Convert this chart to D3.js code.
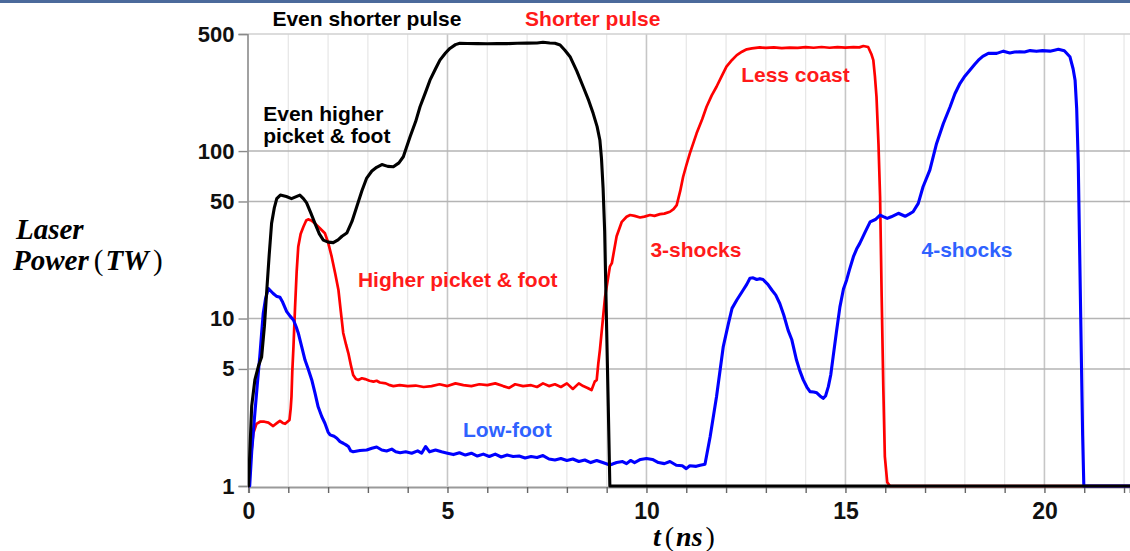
<!DOCTYPE html>
<html>
<head>
<meta charset="utf-8">
<script src="https://cdn.jsdelivr.net/npm/d3@7"></script>
<style>
  html, body { margin: 0; padding: 0; background: #fff; }
  svg { display: block; }
</style>
</head>
<body>
<svg id="chart" width="1130" height="551"></svg>
<script>
// Laser power histories (time in ns, power in TW)
const blackT = [0,0.08,0.16,0.25,0.33,0.4,0.46,0.52,0.58,0.65,0.71,0.8,0.95,1.08,1.2,1.29,1.38,1.46,1.56,1.67,1.78,1.88,2.0,2.13,2.25,2.35,2.47,2.6,2.72,2.85,2.97,3.1,3.22,3.35,3.5,3.64,3.78,3.89,4.06,4.2,4.31,4.45,4.56,4.7,4.81,4.95,5.06,5.2,5.31,5.5,5.75,6.0,6.25,6.5,6.75,7.0,7.25,7.4,7.57,7.7,7.83,7.95,8.08,8.25,8.41,8.55,8.66,8.76,8.83,8.87,8.91,8.95,9.0,9.04,9.08,22.2];
const blackP = [1,3,4.3,5.2,5.9,9,14.8,24,37,46,52,54.6,53.5,52,53.5,54.6,52,49,43,37,32,29.4,28.6,28.4,29.5,31,32.4,38,46.5,58,69,76,80,83,81,80.6,85,92.5,121.7,150,184,225,265,310,349,385,410,432,440,439,438,437,439,438,440,441,442,446,442,440,430,400,366,300,242,200,168,140,116,90,60,33,8.5,3,1,1];

const redT = [0,0.06,0.12,0.2,0.29,0.4,0.5,0.62,0.72,0.79,0.86,0.92,0.98,1.03,1.06,1.08,1.1,1.13,1.17,1.21,1.25,1.31,1.38,1.45,1.5,1.58,1.67,1.8,1.92,2.0,2.09,2.18,2.26,2.32,2.38,2.45,2.51,2.57,2.63,2.7,2.76,2.85,2.93,3.04,3.14,3.22,3.3,3.45,3.55,3.64,3.8,4.0,4.2,4.4,4.6,4.8,5.0,5.2,5.4,5.6,5.8,6.0,6.2,6.4,6.55,6.7,6.9,7.1,7.25,7.4,7.55,7.7,7.85,8.0,8.15,8.3,8.41,8.52,8.62,8.7,8.75,8.79,8.83,8.91,8.96,9.08,9.13,9.25,9.38,9.5,9.59,9.7,9.84,9.95,10.09,10.2,10.34,10.45,10.59,10.68,10.76,10.85,10.92,11.0,11.09,11.26,11.4,11.51,11.64,11.76,11.9,12.01,12.15,12.27,12.4,12.52,12.65,12.85,13.0,13.2,13.4,13.6,13.8,14.0,14.2,14.4,14.6,14.8,15.0,15.2,15.35,15.45,15.57,15.65,15.7,15.74,15.78,15.83,15.87,15.91,15.95,15.99,16.05,16.12,22.2];
const redP = [1,1.5,2.06,2.35,2.42,2.42,2.39,2.28,2.38,2.45,2.38,2.35,2.42,2.48,2.9,3.41,4.8,6.8,11.7,19,26.8,32,35.3,38.5,39.1,38.5,37,34.5,32.3,28.5,23.4,18.5,14.8,11,8.2,7,6.2,5.3,4.6,4.35,4.3,4.4,4.35,4.25,4.2,4.25,4.15,4.1,4.0,3.95,4.0,3.95,3.98,3.9,3.95,4.05,3.95,4.1,4.0,3.95,4.05,4.0,4.1,3.95,3.85,4.05,3.95,4.0,3.9,4.1,3.95,4.05,3.9,4.1,3.8,4.1,3.95,3.85,3.74,4.2,4.3,5.4,6.5,10.2,13.5,20.4,21.4,31,37.8,40.5,41.5,41.0,40.1,40.6,41.5,41.0,42,42.3,43.4,45,47.6,58,70,82,96.9,127.6,155,184,215,242,283,319,350,374,392,405,410,416,413,416,412,415,413,417,414,418,414,417,415,418,416,424,418,380,349,280,211,110,53.4,13.5,4,1.5,1.05,1,1];

const blueT = [0.03,0.08,0.16,0.22,0.29,0.33,0.37,0.43,0.5,0.56,0.62,0.7,0.79,0.86,0.96,1.05,1.13,1.2,1.25,1.33,1.42,1.5,1.59,1.67,1.75,1.84,1.92,2.0,2.05,2.15,2.22,2.3,2.38,2.45,2.51,2.57,2.63,2.8,2.97,3.1,3.22,3.35,3.47,3.6,3.7,3.81,3.95,4.1,4.25,4.35,4.45,4.55,4.7,4.85,5.0,5.15,5.3,5.45,5.6,5.75,5.9,6.05,6.2,6.35,6.5,6.65,6.8,6.95,7.1,7.25,7.4,7.55,7.7,7.85,8.0,8.15,8.3,8.45,8.6,8.75,8.9,9.08,9.25,9.4,9.5,9.6,9.7,9.85,10.0,10.15,10.3,10.45,10.59,10.75,10.9,11.0,11.09,11.25,11.35,11.47,11.6,11.76,11.93,12.06,12.15,12.27,12.43,12.52,12.6,12.68,12.77,12.85,12.93,13.05,13.15,13.25,13.35,13.45,13.56,13.65,13.77,13.85,13.94,14.03,14.11,14.2,14.28,14.36,14.44,14.5,14.57,14.63,14.69,14.77,14.86,14.95,15.03,15.1,15.2,15.28,15.36,15.5,15.62,15.75,15.87,15.95,16.05,16.15,16.33,16.5,16.6,16.7,16.83,16.95,17.12,17.29,17.46,17.63,17.75,17.88,18.0,18.13,18.25,18.34,18.45,18.59,18.7,18.8,18.97,19.13,19.25,19.38,19.5,19.64,19.8,19.95,20.14,20.25,20.35,20.5,20.64,20.72,20.77,20.81,20.85,20.89,20.93,20.96,20.99,22.2];
const blueP = [1,1.6,2.72,4.0,6.2,8.2,10.7,13.2,15.1,14.6,14.1,13.6,13.4,12.5,11,10.3,9.8,8.9,8.2,6.9,5.65,5.0,4.3,3.6,2.97,2.6,2.37,2.1,2.02,1.98,1.93,1.84,1.8,1.76,1.72,1.62,1.6,1.63,1.64,1.68,1.71,1.64,1.62,1.66,1.6,1.58,1.6,1.57,1.62,1.57,1.72,1.6,1.64,1.6,1.57,1.54,1.58,1.53,1.57,1.51,1.55,1.5,1.55,1.49,1.53,1.5,1.51,1.47,1.5,1.48,1.52,1.45,1.43,1.46,1.42,1.45,1.4,1.43,1.38,1.42,1.38,1.335,1.38,1.4,1.36,1.42,1.38,1.44,1.46,1.44,1.38,1.36,1.4,1.33,1.32,1.27,1.32,1.31,1.33,1.35,1.97,3.41,6.8,9.36,11.5,12.9,14.8,16,17.4,17.5,17.1,17.3,17.1,16,14.8,13.8,12.3,10.5,8.5,7.5,5.65,4.9,4.3,3.9,3.66,3.64,3.6,3.45,3.34,3.45,3.92,4.6,5.9,8.2,11.7,15,17,19.5,23.4,26,28.1,33,37.8,39,41.5,40.6,39.6,40.5,42.5,40.8,42,43.4,48.7,61.2,77,111,146,184,220,254,280,305,330,349,368,383,384,383,395,385,390,392,390,398,394,398,395,400,405,397,366,310,265,180,84.5,21.4,5.4,2,1,1];

// Axis ticks
const yTickValues = [1, 5, 10, 50, 100, 500];
const xTickLabels = [0, 5, 10, 15, 20];

// Annotations: text, colour and starting time (ns)
const notes = [
  { text: "Even shorter pulse", color: "#000000", t: 0.6 },
  { text: "Shorter pulse", color: "#ff1a1a", t: 6.95 },
  { text: "Even higher", color: "#000000", t: 0.37 },
  { text: "picket & foot", color: "#000000", t: 0.37 },
  { text: "Higher picket & foot", color: "#ff1a1a", t: 2.75 },
  { text: "Low-foot", color: "#2f62ff", t: 5.39 },
  { text: "3-shocks", color: "#ff1a1a", t: 10.1 },
  { text: "Less coast", color: "#ff1a1a", t: 12.38 },
  { text: "4-shocks", color: "#2f62ff", t: 16.91 }
];
// baseline heights of the annotation text in screen rows
const noteRows = [26, 26, 121, 143, 287, 437, 257, 81.5, 257];

const svg = d3.select("#chart");
const W = 1130, H = 551;

const x = d3.scaleLinear().domain([0, 22.15]).range([248.5, 1130]);
const y = d3.scaleLog().domain([1, 500]).range([486, 34]);

// header rule
svg.append("rect").attr("x", 0).attr("y", 0).attr("width", W).attr("height", 3).attr("fill", "#4b6a9b");

svg.append("defs").append("clipPath").attr("id", "plotclip")
  .append("rect").attr("x", 248).attr("y", 30).attr("width", W - 248).attr("height", 470);

// vertical grid, every ns, darker every 5 ns
const grid = svg.append("g");
d3.range(1, 23).forEach(v => {
  grid.append("line")
    .attr("x1", x(v)).attr("x2", x(v)).attr("y1", y(500)).attr("y2", y(1))
    .attr("stroke", v % 5 === 0 ? "#c6c6c6" : "#e6e6e6")
    .attr("stroke-width", v % 5 === 0 ? 1.6 : 1.2);
});
// horizontal grid at labelled values
yTickValues.filter(v => v > 1).forEach(v => {
  grid.append("line")
    .attr("x1", x(0)).attr("x2", W).attr("y1", y(v)).attr("y2", y(v))
    .attr("stroke", v === 500 ? "#d0d0d0" : "#b4b4b4").attr("stroke-width", 1.4);
});

// y axis
const yAxis = d3.axisLeft(y).tickValues(yTickValues).tickFormat(d3.format("d")).tickSize(9).tickPadding(4);
const gy = svg.append("g").attr("transform", `translate(${x(0) - 1},0)`).call(yAxis);
gy.select(".domain").attr("stroke", "#8a8a8a").attr("stroke-width", 1.6);
gy.selectAll(".tick line").attr("stroke", "#8a8a8a").attr("stroke-width", 1.4);
gy.selectAll(".tick text")
  .attr("font-family", "Liberation Sans, Arial, sans-serif")
  .attr("font-weight", "bold").attr("font-size", 22).attr("fill", "#111");

// x axis
const xAxis = d3.axisBottom(x).tickValues(d3.range(0, 23)).tickSize(6).tickPadding(10)
  .tickFormat(d => xTickLabels.includes(d) ? d : "");
const gx = svg.append("g").attr("transform", `translate(0,${y(1) + 1})`).call(xAxis);
gx.select(".domain").attr("stroke", "#9a9a9a").attr("stroke-width", 2.2);
gx.selectAll(".tick line").attr("stroke", "#666").attr("stroke-width", 1.4);
gx.selectAll(".tick text")
  .attr("font-family", "Liberation Sans, Arial, sans-serif")
  .attr("font-weight", "bold").attr("font-size", 23).attr("fill", "#111");

// curves
const line = d3.line().x(d => x(d[0])).y(d => y(d[1])).curve(d3.curveLinear);
const series = [
  { t: redT, p: redP, color: "#ff0000", w: 2.7 },
  { t: blueT, p: blueP, color: "#0000ff", w: 3.1 },
  { t: blackT, p: blackP, color: "#000000", w: 3.1 }
];
const gl = svg.append("g").attr("clip-path", "url(#plotclip)");
series.forEach(s => {
  gl.append("path")
    .datum(s.t.map((t, i) => [t, s.p[i]]))
    .attr("d", line)
    .attr("fill", "none")
    .attr("stroke", s.color)
    .attr("stroke-width", s.w)
    .attr("stroke-linejoin", "round")
    .attr("stroke-linecap", "round");
});

// annotations
notes.forEach((n, i) => {
  svg.append("text")
    .attr("x", x(n.t)).attr("y", noteRows[i])
    .attr("font-family", "Liberation Sans, Arial, sans-serif")
    .attr("font-weight", "bold").attr("font-size", 21)
    .attr("fill", n.color)
    .text(n.text);
});

// axis titles in math style
const serif = "Liberation Serif, Times New Roman, serif";
svg.append("text").attr("x", 16).attr("y", 239)
  .attr("font-family", serif).attr("font-size", 29).attr("font-weight", "bold").attr("font-style", "italic")
  .text("Laser");
const pw = svg.append("text").attr("x", 13).attr("y", 270)
  .attr("font-family", serif).attr("font-size", 29);
pw.append("tspan").attr("font-weight", "bold").attr("font-style", "italic").text("Power");
pw.append("tspan").attr("dx", 5).text("(");
pw.append("tspan").attr("font-weight", "bold").attr("font-style", "italic").attr("dx", 2).text("TW");
pw.append("tspan").attr("dx", 4).text(")");

const tx = svg.append("text").attr("x", 653).attr("y", 546)
  .attr("font-family", serif).attr("font-size", 28);
tx.append("tspan").attr("font-weight", "bold").attr("font-style", "italic").text("t");
tx.append("tspan").attr("dx", 4).text("(");
tx.append("tspan").attr("font-weight", "bold").attr("font-style", "italic").attr("dx", 2).text("ns");
tx.append("tspan").attr("dx", 3).text(")");
</script>
</body>
</html>
